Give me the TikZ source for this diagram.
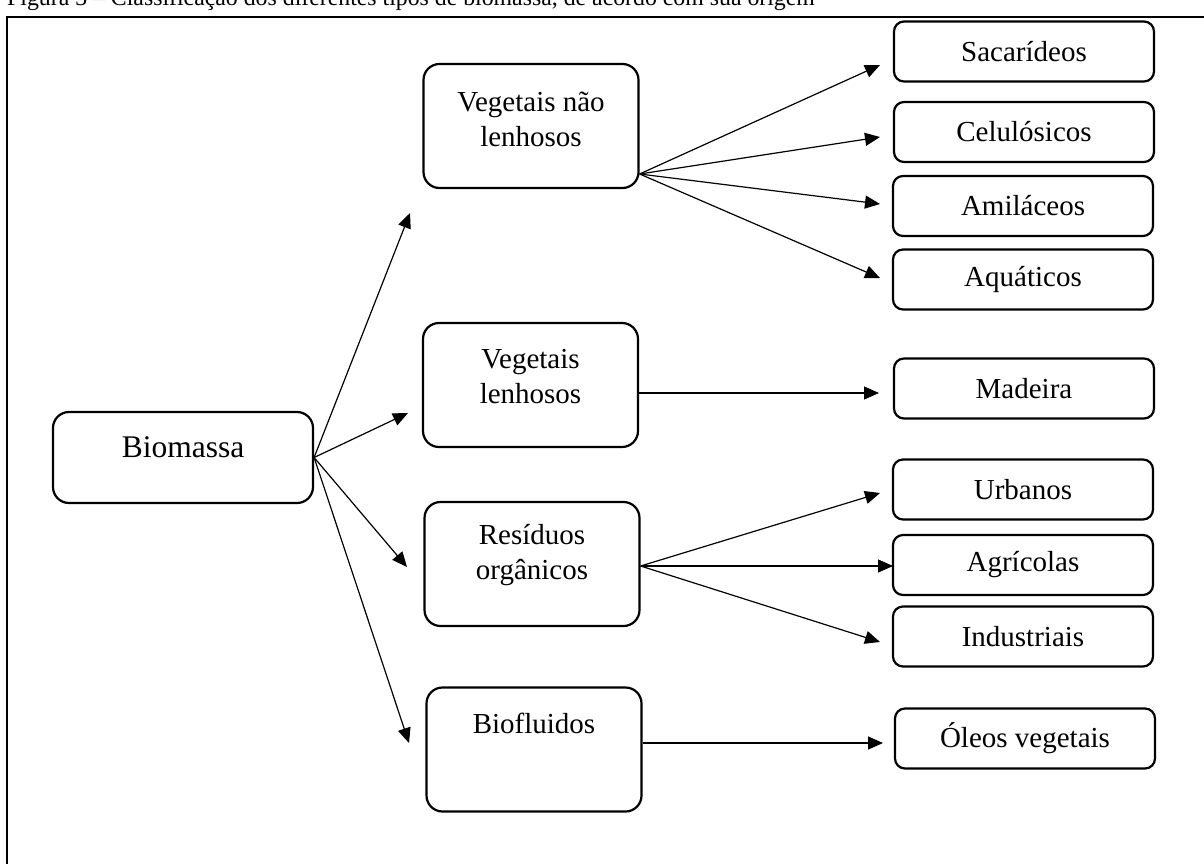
\documentclass[tikz,border=0pt]{standalone}
\usepackage{fontspec}
\setmainfont{Liberation Serif}
\usetikzlibrary{arrows.meta}
\begin{document}
\begin{tikzpicture}[x=1pt,y=-1pt,
  bigbox/.style={draw, line width=2.2pt, rounded corners=16pt, minimum width=215pt, minimum height=124pt, inner sep=0pt},
  smallbox/.style={draw, line width=2.2pt, rounded corners=10pt, minimum width=260pt, minimum height=60pt, inner sep=0pt, font=\fontsize{29}{35}\selectfont},
  txt/.style={font=\fontsize{29}{35}\selectfont, align=center, inner sep=0pt},
  arr/.style={-{Triangle[length=15pt,width=13pt]}, line width=1.2pt},
  frameline/.style={line width=1.8pt, line join=miter}]
\useasboundingbox (0,0) rectangle (1204,864);

% caption (cut at top in the reference)
\node[anchor=base west, inner sep=0pt, font=\fontsize{23.8}{28}\selectfont] (cap) at (7,6)
  {Figura 3 – Classificação dos diferentes tipos de biomassa, de acordo com sua origem};

% frame
\draw[frameline] (1204,17) -- (7,17) -- (7,864);

% main node
\node[bigbox, minimum width=260pt, minimum height=91pt,
      label={[txt, font=\fontsize{31.5}{36}\selectfont, yshift=10pt]center:Biomassa}] (bio) at (183,457.5) {};

% second column
\node[bigbox, label={[txt, yshift=6.5pt]center:Vegetais não\\lenhosos}] (vnl) at (531,126) {};
\node[bigbox, label={[txt, yshift=8.5pt]center:Vegetais\\lenhosos}] (vl) at (530.5,385) {};
\node[bigbox, label={[txt, yshift=9pt]center:Resíduos\\orgânicos}] (res) at (532,564) {};
\node[bigbox, label={[txt, yshift=26.5pt]center:Biofluidos}] (bfl) at (534,749.5) {};

% third column
\node[smallbox] (sac) at (1024,51.5) {Sacarídeos};
\node[smallbox] (cel) at (1024,132) {Celulósicos};
\node[smallbox] (ami) at (1023,206) {Amiláceos};
\node[smallbox] (aqu) at (1023,279.5) {Aquáticos};
\node[smallbox] (mad) at (1024,388.5) {Madeira};
\node[smallbox] (urb) at (1023,489.5) {Urbanos};
\node[smallbox] (agr) at (1023,565) {Agrícolas};
\node[smallbox] (ind) at (1023,636.5) {Industriais};
\node[smallbox] (ole) at (1025,738.5) {Óleos vegetais};

% connector end points
\coordinate (t-vnl) at (410,213);
\coordinate (t-vl)  at (408,413);
\coordinate (t-res) at (407,567);
\coordinate (t-bfl) at (409,743);

\coordinate (o-vnl) at ([yshift=-48pt]vnl.east);
\coordinate (o-vl)  at ([yshift=-8pt]vl.east);
\coordinate (o-res) at ([yshift=-2pt]res.east);
\coordinate (o-bfl) at ([yshift=6.5pt]bfl.east);

\coordinate (t-sac) at (880,65);
\coordinate (t-cel) at (880,137);
\coordinate (t-ami) at (880,204);
\coordinate (t-aqu) at (880,278);
\coordinate (t-mad) at (879,393);
\coordinate (t-urb) at (880,493);
\coordinate (t-agr) at (893,566);
\coordinate (t-ind) at (880,642);
\coordinate (t-ole) at (883,743);

% connectors
\draw[arr] (bio.east) -- (t-vnl);
\draw[arr] (bio.east) -- (t-vl);
\draw[arr] (bio.east) -- (t-res);
\draw[arr] (bio.east) -- (t-bfl);

\draw[arr] (o-vnl) -- (t-sac);
\draw[arr] (o-vnl) -- (t-cel);
\draw[arr] (o-vnl) -- (t-ami);
\draw[arr] (o-vnl) -- (t-aqu);

\draw[arr] (o-vl) -- (t-mad);

\draw[arr] (o-res) -- (t-urb);
\draw[arr] (o-res) -- (t-agr);
\draw[arr] (o-res) -- (t-ind);

\draw[arr] (o-bfl) -- (t-ole);
\end{tikzpicture}
\end{document}
